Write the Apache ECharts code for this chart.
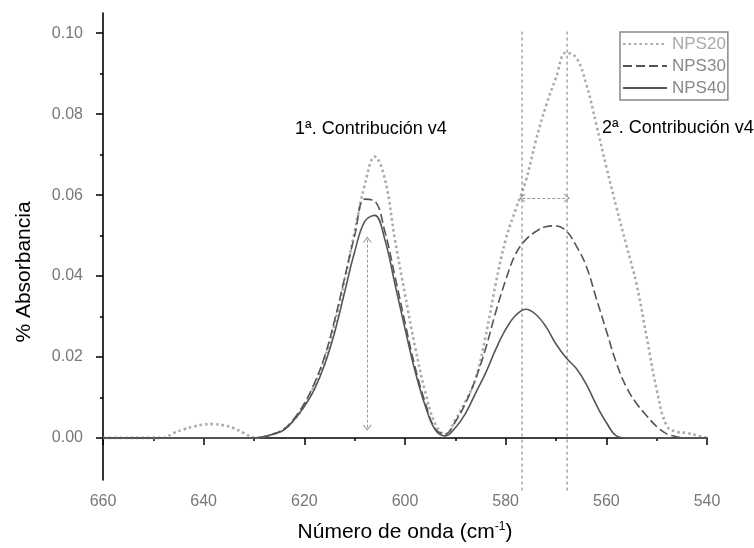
<!DOCTYPE html>
<html>
<head>
<meta charset="utf-8">
<title>Absorbancia NPS</title>
<script src="https://cdn.jsdelivr.net/npm/echarts@6/dist/echarts.min.js"></script>
<style>
  html, body { margin: 0; padding: 0; background: #fff; }
  #chart { width: 754px; height: 548px; }
</style>
</head>
<body>
<div id="chart"></div>
<script>
// número de onda (cm-1), de 660 a 540 cada 2
const wavenumbers = [
  660, 658, 656, 654, 652, 650, 648, 646, 644, 642,
  640, 638, 636, 634, 632, 630, 628, 626, 624, 622,
  620, 618, 616, 614, 612, 610, 608, 606, 604, 602,
  600, 598, 596, 594, 592, 590, 588, 586, 584, 582,
  580, 578, 576, 574, 572, 570, 568, 566, 564, 562,
  560, 558, 556, 554, 552, 550, 548, 546, 544, 542,
  540
];

const nps20 = [
  0, 0, 0, 0, 0, 0, 0, 0.0012, 0.0021, 0.0028,
  0.0033, 0.0034, 0.0031, 0.0024, 0.0012, 0.0001, 0.0003, 0.001, 0.0022, 0.0045,
  0.008, 0.013, 0.0195, 0.028, 0.039, 0.051, 0.0625, 0.0695, 0.064, 0.049,
  0.0355, 0.0225, 0.0115, 0.0035, 0.0008, 0.0045, 0.009, 0.0145, 0.025, 0.038,
  0.049, 0.0565, 0.0635, 0.0735, 0.082, 0.089, 0.0952, 0.094, 0.0875, 0.0775,
  0.067, 0.057, 0.0475, 0.038, 0.025, 0.012, 0.003, 0.0015, 0.0012, 0.0006,
  0
];

const nps30 = [
  0, 0, 0, 0, 0, 0, 0, 0, 0, 0,
  0, 0, 0, 0, 0, 0, 0.0003, 0.001, 0.0022, 0.0048,
  0.0085, 0.0135, 0.02, 0.029, 0.0395, 0.05, 0.059, 0.0585, 0.051, 0.04,
  0.0285, 0.0175, 0.0088, 0.0022, 0.001, 0.004, 0.0085, 0.0145, 0.022, 0.031,
  0.039, 0.0455, 0.049, 0.051, 0.0522, 0.0524, 0.0512, 0.0475, 0.0425, 0.0345,
  0.0265, 0.0185, 0.0125, 0.0085, 0.0055, 0.0028, 0.001, 0.0003, 0, 0,
  0
];

const nps40 = [
  0, 0, 0, 0, 0, 0, 0, 0, 0, 0,
  0, 0, 0, 0, 0, 0, 0.0003, 0.001, 0.002, 0.0045,
  0.0078, 0.012, 0.018, 0.026, 0.036, 0.046, 0.0535, 0.055, 0.049, 0.038,
  0.027, 0.0165, 0.008, 0.002, 0.0005, 0.0025, 0.006, 0.011, 0.016, 0.0218,
  0.0268, 0.0303, 0.0318, 0.0305, 0.0275, 0.0232, 0.0198, 0.0172, 0.0133, 0.0082,
  0.0038, 0.0005, 0, 0, 0, 0, 0, 0, 0, 0,
  0
];

// ticks
const yMajorTicks = [0, 0.02, 0.04, 0.06, 0.08, 0.10];
const yMinorTicks = [0.01, 0.03, 0.05, 0.07, 0.09];

// lineas guia y flechas
const guideX = [576.75, 567.8];
const guideY = [0.1004, -0.0133];
const arrowH = { y: 0.0593, from: 576.7, to: 567.8 };
const arrowV = { x: 607.5, from: 0.049, to: 0.0025 };

const toPairs = (ys) => wavenumbers.map((w, i) => [w, ys[i]]);

const FONT = '"Liberation Sans", Arial, sans-serif';
const chevron = 'path://M0,10 L5,0 L10,10 L8.6,10 L5,2.8 L1.4,10 Z';

const myChart = echarts.init(document.getElementById('chart'));

const option = {
  animation: false,
  backgroundColor: '#fff',
  grid: { left: 103, right: 47, top: 13, bottom: 68 },
  legend: {
    orient: 'vertical',
    left: 620,
    top: 32,
    itemWidth: 44,
    itemHeight: 14,
    itemGap: 4,
    padding: [3, 2, 3, 2],
    borderColor: '#888',
    borderWidth: 1.5,
    itemStyle: { opacity: 0 },
    textStyle: { fontSize: 17, fontFamily: FONT, lineHeight: 18 },
    data: [
      { name: 'NPS20', textStyle: { color: '#aaa' } },
      { name: 'NPS30', textStyle: { color: '#888' } },
      { name: 'NPS40', textStyle: { color: '#888' } }
    ]
  },
  xAxis: {
    type: 'value',
    min: 540,
    max: 660,
    interval: 20,
    inverse: true,
    name: 'Número de onda (cm{sup|-1})',
    nameLocation: 'middle',
    nameGap: 41,
    nameTextStyle: {
      color: '#000',
      fontSize: 21,
      fontFamily: FONT,
      rich: { sup: { fontSize: 12, fontFamily: FONT, color: '#000', padding: [0, 0, 10, 0] } }
    },
    axisLine: { lineStyle: { color: '#000', width: 1.6 } },
    axisTick: { length: 7, lineStyle: { color: '#000', width: 1.5 } },
    minorTick: { show: true, splitNumber: 2, length: 3, lineStyle: { color: '#000', width: 1.5 } },
    axisLabel: { color: '#777', fontSize: 16, fontFamily: FONT, margin: 14 },
    splitLine: { show: false }
  },
  yAxis: [
    {
      type: 'value',
      min: -0.0104,
      max: 0.105,
      position: 'left',
      axisLine: { show: true, lineStyle: { color: '#000', width: 1.6 } },
      axisTick: { show: true, length: 7, lineStyle: { color: '#000', width: 1.5 }, customValues: yMajorTicks },
      axisLabel: {
        customValues: yMajorTicks,
        formatter: (v) => v.toFixed(2),
        color: '#777',
        fontSize: 16,
        fontFamily: FONT,
        margin: 20
      },
      splitLine: { show: false }
    },
    {
      type: 'value',
      min: -0.0104,
      max: 0.105,
      position: 'left',
      axisLine: { show: false },
      axisTick: { show: true, length: 3, lineStyle: { color: '#000', width: 1.5 }, customValues: yMinorTicks },
      axisLabel: { show: false },
      splitLine: { show: false }
    }
  ],
  graphic: [
    {
      type: 'text', x: 24, y: 272, rotation: Math.PI / 2,
      style: { text: '% Absorbancia', font: '21px ' + FONT, fill: '#000', align: 'center', verticalAlign: 'middle' }
    },
    {
      type: 'text', x: 295, y: 129,
      style: { text: '1ª. Contribución v4', font: '18px ' + FONT, fill: '#000', align: 'left', verticalAlign: 'middle' }
    },
    {
      type: 'text', x: 602, y: 128,
      style: { text: '2ª. Contribución v4', font: '18px ' + FONT, fill: '#000', align: 'left', verticalAlign: 'middle' }
    }
  ],
  series: [
    {
      name: 'NPS20',
      type: 'line',
      data: toPairs(nps20),
      smooth: 0.4,
      symbol: 'none',
      lineStyle: { color: '#aaa', width: 2.6, type: [2.5, 3] },
      itemStyle: { color: '#aaa' },
      z: 3
    },
    {
      name: 'NPS30',
      type: 'line',
      data: toPairs(nps30),
      smooth: 0.4,
      symbol: 'none',
      lineStyle: { color: '#555', width: 1.6, type: [9, 4] },
      itemStyle: { color: '#555' },
      z: 4
    },
    {
      name: 'NPS40',
      type: 'line',
      data: toPairs(nps40),
      smooth: 0.4,
      symbol: 'none',
      lineStyle: { color: '#555', width: 1.6 },
      itemStyle: { color: '#555' },
      z: 5
    },
    {
      name: 'guia1',
      type: 'line',
      clip: false,
      silent: true,
      symbol: 'none',
      data: [[guideX[0], guideY[0]], [guideX[0], guideY[1]]],
      lineStyle: { color: '#777', width: 1, type: [3, 3] },
      markLine: {
        silent: true,
        symbol: [chevron, chevron],
        symbolSize: [9, 6],
        label: { show: false },
        lineStyle: { color: '#999', width: 1, type: [3, 2] },
        data: [
          [{ coord: [arrowH.from, arrowH.y] }, { coord: [arrowH.to, arrowH.y] }],
          [{ coord: [arrowV.x, arrowV.from] }, { coord: [arrowV.x, arrowV.to] }]
        ]
      }
    },
    {
      name: 'guia2',
      type: 'line',
      clip: false,
      silent: true,
      symbol: 'none',
      data: [[guideX[1], guideY[0]], [guideX[1], guideY[1]]],
      lineStyle: { color: '#777', width: 1, type: [3, 3] }
    }
  ]
};

option && myChart.setOption(option);
</script>
</body>
</html>
